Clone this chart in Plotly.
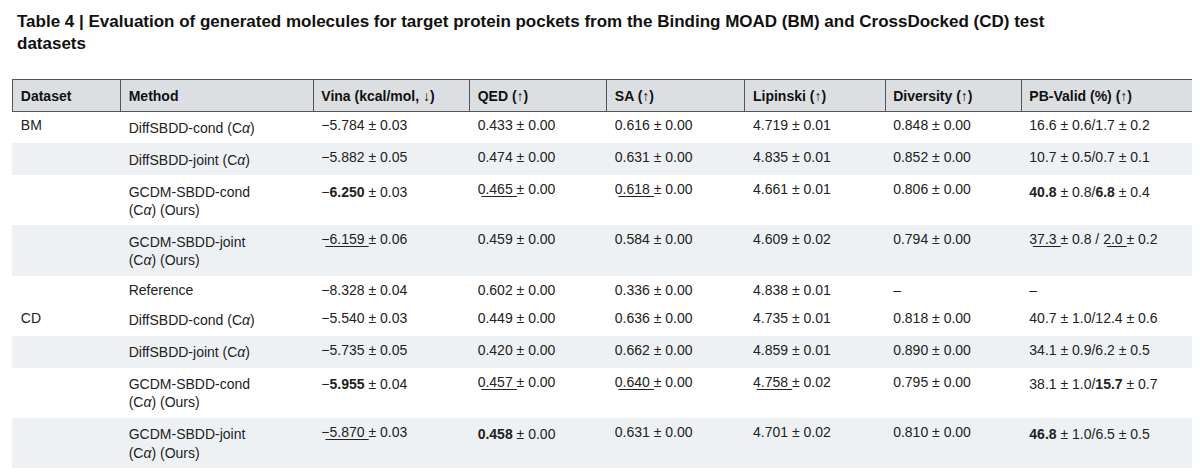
import plotly.graph_objects as go

headers = ["Dataset", "Method", "Vina (kcal/mol, ↓)", "QED (↑)", "SA (↑)",
           "Lipinski (↑)", "Diversity (↑)", "PB-Valid (%) (↑)"]

def u(s):
    # underline with combining low line, since table cells don't take styled spans
    return "".join(c + "\u0332" for c in s)

datasets = ["BM", "", "", "", "", "CD", "", "", "", ""]
methods = ["DiffSBDD-cond (C<i>α</i>)", "DiffSBDD-joint (C<i>α</i>)",
           "GCDM-SBDD-cond<br>(C<i>α</i>) (Ours)", "GCDM-SBDD-joint<br>(C<i>α</i>) (Ours)",
           "Reference",
           "DiffSBDD-cond (C<i>α</i>)", "DiffSBDD-joint (C<i>α</i>)",
           "GCDM-SBDD-cond<br>(C<i>α</i>) (Ours)", "GCDM-SBDD-joint<br>(C<i>α</i>) (Ours)",
           "Reference"]
vina = ["−5.784 ± 0.03", "−5.882 ± 0.05", "−<b>6.250</b> ± 0.03", u("−6.159") + " ± 0.06",
        "−8.328 ± 0.04", "−5.540 ± 0.03", "−5.735 ± 0.05", "−<b>5.955</b> ± 0.04",
        u("−5.870") + " ± 0.03", "−6.871 ± 0.04"]
qed = ["0.433 ± 0.00", "0.474 ± 0.00", u("0.465") + " ± 0.00", "0.459 ± 0.00", "0.602 ± 0.00",
       "0.449 ± 0.00", "0.420 ± 0.00", u("0.457") + " ± 0.00", "<b>0.458</b> ± 0.00", "0.476 ± 0.00"]
sa = ["0.616 ± 0.00", "0.631 ± 0.00", u("0.618") + " ± 0.00", "0.584 ± 0.00", "0.336 ± 0.00",
      "0.636 ± 0.00", "0.662 ± 0.00", u("0.640") + " ± 0.00", "0.631 ± 0.00", "0.728 ± 0.00"]
lipinski = ["4.719 ± 0.01", "4.835 ± 0.01", "4.661 ± 0.01", "4.609 ± 0.02", "4.838 ± 0.01",
            "4.735 ± 0.01", "4.859 ± 0.01", u("4.758") + " ± 0.02", "4.701 ± 0.02", "4.340 ± 0.00"]
diversity = ["0.848 ± 0.00", "0.852 ± 0.00", "0.806 ± 0.00", "0.794 ± 0.00", "–",
             "0.818 ± 0.00", "0.890 ± 0.00", "0.795 ± 0.00", "0.810 ± 0.00", "–"]
pb_valid = ["16.6 ± 0.6/1.7 ± 0.2", "10.7 ± 0.5/0.7 ± 0.1", "<b>40.8</b> ± 0.8/<b>6.8</b> ± 0.4",
            u("37.3") + " ± 0.8 / " + u("2.0") + " ± 0.2", "–",
            "40.7 ± 1.0/12.4 ± 0.6", "34.1 ± 0.9/6.2 ± 0.5", "38.1 ± 1.0/<b>15.7</b> ± 0.7",
            "<b>46.8</b> ± 1.0/6.5 ± 0.5", "–"]

shade = [False, True, False, True, False, False, True, False, True, False]
row_fill = ["#eef1f4" if s else "white" for s in shade]
cols = [datasets, methods, vina, qed, sa, lipinski, diversity, pb_valid]

fig = go.Figure(go.Table(
    columnwidth=[107, 191, 155, 136, 137, 139, 135, 175],
    header=dict(values=["<b>" + h + "</b>" for h in headers],
                fill_color="#dcdfe2", line=dict(color="#555", width=1),
                align="left", height=28,
                font=dict(family="Liberation Sans, Arial", size=14, color="#111")),
    cells=dict(values=cols, fill_color=[row_fill] * 8,
               line=dict(color=[row_fill] * 8, width=1),
               align="left", height=28,
               font=dict(family="Liberation Sans, Arial", size=14, color="#222")),
    domain=dict(x=[0.004, 0.992], y=[0, 0.848]),
))

fig.update_layout(
    width=1200, height=472, paper_bgcolor="white",
    margin=dict(l=0, r=0, t=0, b=0),
    annotations=[dict(
        text="<b>Table 4 | Evaluation of generated molecules for target protein pockets from the Binding MOAD (BM) and CrossDocked (CD) test<br>datasets</b>",
        x=0.006, xref="paper", xanchor="left", y=0.995, yref="paper", yanchor="top",
        align="left", showarrow=False,
        font=dict(family="Liberation Sans, Arial", size=17, color="#111"))],
)

fig.write_html("out.html")
